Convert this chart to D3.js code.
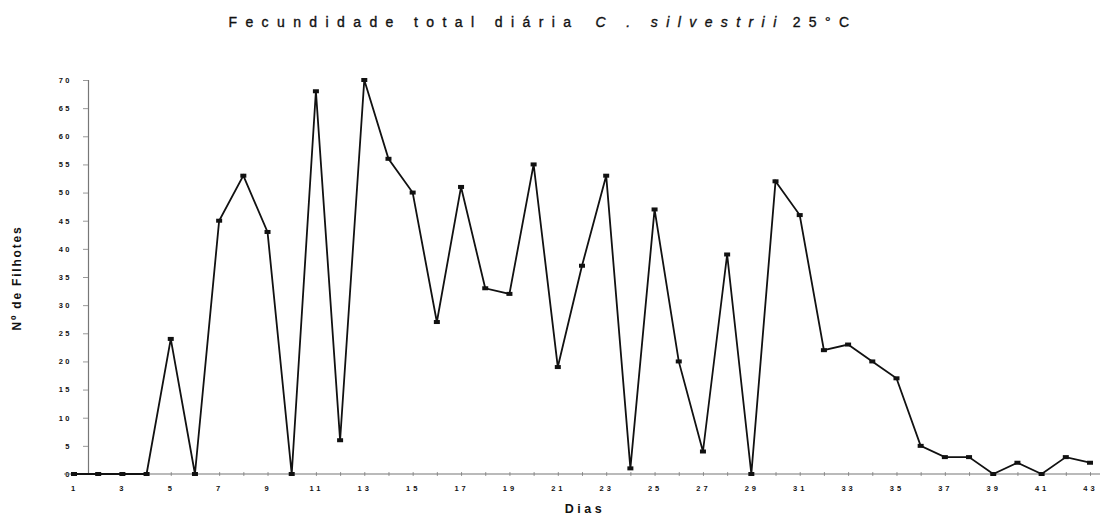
<!DOCTYPE html>
<html>
<head>
<meta charset="utf-8">
<script src="https://cdn.jsdelivr.net/npm/d3@7"></script>
<style>
  html, body { margin: 0; padding: 0; background: #fff; }
  svg { display: block; }
  text { font-family: "Liberation Sans", Arial, sans-serif; fill: #111; }
</style>
</head>
<body>
<svg id="chart" width="1105" height="518"></svg>
<script>
// Daily total fecundity (offspring per day), days 1..43
const days = d3.range(1, 44);
const offspring = [
  0, 0, 0, 0, 24, 0, 45, 53, 43, 0,
  68, 6, 70, 56, 50, 27, 51, 33, 32, 55,
  19, 37, 53, 1, 47, 20, 4, 39, 0, 52,
  46, 22, 23, 20, 17, 5, 3, 3, 0, 2,
  0, 3, 2
];
const yTicks = d3.range(0, 71, 5);

const svg = d3.select("#chart");

const x = d3.scaleLinear().domain([1, 43]).range([74, 1090]);
const y = d3.scaleLinear().domain([0, 70]).range([474, 80]);
const axisX = 88;

// Title
const title = svg.append("text")
  .attr("x", 543).attr("y", 27)
  .attr("text-anchor", "middle")
  .attr("font-size", 14)
  .attr("letter-spacing", 8.4)
  .attr("fill", "#111")
  .attr("stroke", "#111")
  .attr("stroke-width", 0.35);
title.append("tspan").text("Fecundidade total diária");
title.append("tspan").attr("dx", 16).attr("font-style", "italic").text("C . silvestrii");
title.append("tspan").attr("dx", 8).text("25°C");

// Y axis
const yAxis = d3.axisLeft(y)
  .tickValues(yTicks)
  .tickSize(5)
  .tickPadding(11)
  .tickFormat(d => String(d));
const gy = svg.append("g")
  .attr("transform", `translate(${axisX},0)`)
  .call(yAxis);
gy.select(".domain").attr("stroke", "#777").attr("stroke-width", 1.2);
gy.selectAll(".tick line").attr("stroke", "#999");
gy.selectAll(".tick text")
  .attr("font-size", 7.5).attr("font-weight", "bold")
  .attr("letter-spacing", 2.5)
  .attr("font-family", "'Liberation Sans', Arial, sans-serif")
  .attr("fill", "#222");

// X axis
const xAxis = d3.axisBottom(x)
  .tickValues(days)
  .tickSize(3)
  .tickPadding(9)
  .tickFormat(d => d % 2 === 1 ? String(d) : "");
const gx = svg.append("g")
  .attr("transform", `translate(0,${y(0)})`)
  .call(xAxis);
gx.select(".domain").remove();
gx.append("line")
  .attr("x1", 64).attr("x2", 1100)
  .attr("y1", 0).attr("y2", 0)
  .attr("stroke", "#777").attr("stroke-width", 1.2);
gx.selectAll(".tick line").attr("stroke", "#999").attr("y1", -2).attr("y2", 2);
gx.selectAll(".tick text")
  .attr("font-size", 7.5).attr("font-weight", "bold")
  .attr("letter-spacing", 3)
  .attr("font-family", "'Liberation Sans', Arial, sans-serif")
  .attr("fill", "#333");

// Axis titles
svg.append("text")
  .attr("transform", "translate(21,278) rotate(-90)")
  .attr("text-anchor", "middle")
  .attr("font-size", 12).attr("font-weight", "bold")
  .attr("letter-spacing", 1.8)
  .text("Nº de Filhotes");

svg.append("text")
  .attr("x", 585).attr("y", 513)
  .attr("text-anchor", "middle")
  .attr("font-size", 12.5).attr("font-weight", "bold")
  .attr("letter-spacing", 3.5)
  .text("Dias");

// Series line
const line = d3.line()
  .x((d, i) => x(days[i]))
  .y(d => y(d));
svg.append("path")
  .datum(offspring)
  .attr("fill", "none")
  .attr("stroke", "#111")
  .attr("stroke-width", 1.8)
  .attr("stroke-linejoin", "miter")
  .attr("d", line);

// Markers
svg.append("g").selectAll("rect")
  .data(offspring)
  .join("rect")
  .attr("x", (d, i) => x(days[i]) - 3)
  .attr("y", d => y(d) - 2)
  .attr("width", 6).attr("height", 4)
  .attr("fill", "#111");
</script>
</body>
</html>
